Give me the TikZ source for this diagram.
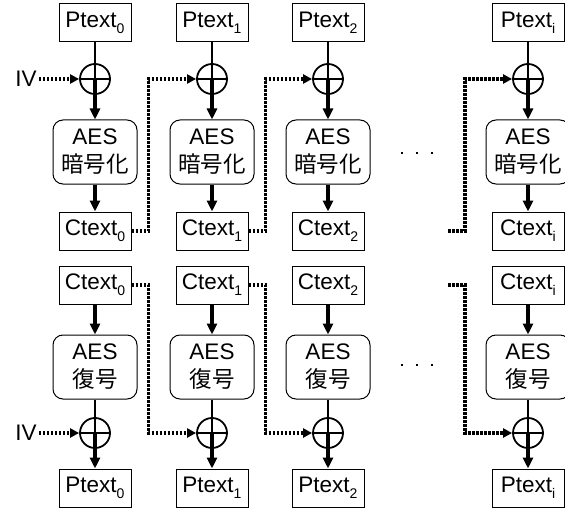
\documentclass[tikz,border=0pt]{standalone}
\usepackage{fontspec}
\setmainfont{Liberation Sans}
\newfontfamily\cjk{Noto Sans CJK JP}
\usetikzlibrary{arrows.meta}
\newcommand{\mysub}[1]{\raisebox{-0.26em}{\fontsize{14}{14}\selectfont #1}}
\begin{document}
\begin{tikzpicture}[x=1pt,y=-1pt,
  font=\fontsize{22.5}{28}\selectfont,
  txtbox/.style={draw, line width=1pt, minimum width=72pt, minimum height=38pt, inner sep=0pt},
  aesbox/.style={draw, rounded corners=10pt, line width=1pt, minimum width=84pt, minimum height=64pt, align=center, inner sep=0pt},
  xor/.style={circle, draw, line width=1.8pt, minimum size=30pt, inner sep=0pt},
  plus/.style={line width=1.8pt},
  link/.style={line width=2.5pt},
  arr/.style={line width=3.4pt, -{Triangle[length=11pt,width=10pt]}},
  dotarr/.style={line width=3.6pt, dash pattern=on 2.6pt off 1.4pt, -{Triangle[length=9pt,width=9pt]}}]
\useasboundingbox (0,0) rectangle (565,508);
\foreach \c/\x/\s in {0/95/0,1/212/1,2/328/2,i/528/i}{
  % encryption
  \node[txtbox] (tp\c) at (\x,23) {Ptext\mysub{\s}};
  \node[xor] (tx\c) at (\x,79) {};
  \node[aesbox] (ta\c) at (\x,152) {AES\\{\cjk 暗号化}};
  \node[txtbox] (tc\c) at (\x,231) {Ctext\mysub{\s}};
  \draw[plus] (tx\c.north) -- (tx\c.south) (tx\c.west) -- (tx\c.east);
  \draw[link] (tp\c) -- (tx\c);
  \draw[arr] (tx\c.center) -- (ta\c);
  \draw[arr] (ta\c) -- (tc\c);
  % decryption
  \node[txtbox] (bc\c) at (\x,285) {Ctext\mysub{\s}};
  \node[aesbox] (ba\c) at (\x,367) {AES\\{\cjk 復号}};
  \node[xor] (bx\c) at (\x,433) {};
  \node[txtbox] (bp\c) at (\x,488) {Ptext\mysub{\s}};
  \draw[plus] (bx\c.north) -- (bx\c.south) (bx\c.west) -- (bx\c.east);
  \draw[arr] (bc\c) -- (ba\c);
  \draw[link] (ba\c) -- (bx\c);
  \draw[arr] (bx\c.center) -- (bp\c);
}
% IV inputs
\node[inner sep=2pt] (ivt) at (26,79) {IV};
\node[inner sep=2pt] (ivb) at (26,433) {IV};
\draw[dotarr] (ivt) -- (tx0);
\draw[dotarr] (ivb) -- (bx0);
% chaining
\draw[dotarr] (tc0.east) -- ++(17,0) |- (tx1.west);
\draw[dotarr] (tc1.east) -- ++(17,0) |- (tx2.west);
\coordinate (tin) at (448,231);
\draw[dotarr] (tin) -- ++(17,0) |- (txi.west);
\draw[dotarr] (bc0.east) -- ++(17,0) |- (bx1.west);
\draw[dotarr] (bc1.east) -- ++(17,0) |- (bx2.west);
\coordinate (bin) at (448,285);
\draw[dotarr] (bin) -- ++(17,0) |- (bxi.west);
% ellipsis
\foreach \y in {153,365}{
  \foreach \xx in {402,417,432}{
    \fill (\xx-1.4,\y-1.4) rectangle (\xx+1.4,\y+1.4);
  }
}
\end{tikzpicture}
\end{document}
